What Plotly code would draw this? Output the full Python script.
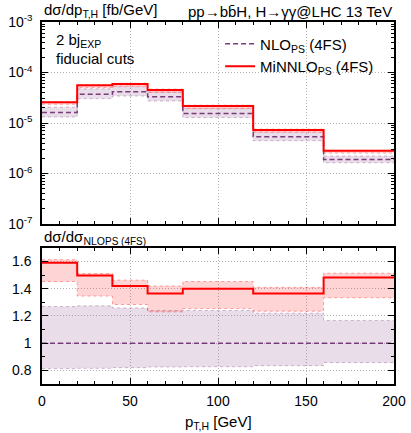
import plotly.graph_objects as go
from plotly.subplots import make_subplots

# ---------------- data ----------------
bin_edges = [0, 20, 40, 60, 80, 120, 160, 200]
nlo_central = [1.62e-5, 3.73e-5, 4.17e-5, 3.30e-5, 1.55e-5, 5.35e-6, 1.90e-6]  # fb/GeV
nlo_ratio_up = [1.269, 1.274, 1.259, 1.240, 1.240, 1.220, 1.167]
nlo_ratio_lo = [0.813, 0.815, 0.820, 0.825, 0.827, 0.835, 0.857]
minnlo_ratio = [1.590, 1.497, 1.420, 1.364, 1.400, 1.364, 1.482]
minnlo_ratio_up = [1.613, 1.511, 1.463, 1.420, 1.453, 1.410, 1.514]
minnlo_ratio_lo = [1.453, 1.346, 1.284, 1.230, 1.254, 1.235, 1.334]
log_tick_vals = [1e-7, 1e-6, 1e-5, 1e-4, 1e-3]
log_tick_text = ["10<sup>-7</sup>", "10<sup>-6</sup>", "10<sup>-5</sup>", "10<sup>-4</sup>", "10<sup>-3</sup>"]

FONT = "Liberation Sans, Arial, sans-serif"
RED = "#ff0000"
PURPLE = "#7a3d7a"
RED_FILL = "rgba(255,0,0,0.17)"
PUR_FILL = "rgba(128,64,128,0.18)"
RED_EDGE = "rgba(255,0,0,0.35)"
PUR_EDGE = "rgba(128,64,128,0.35)"


def step(vals):
    return list(vals) + [vals[-1]]


def mul(a, b):
    return [x * y for x, y in zip(a, b)]


ones = [1.0] * len(nlo_central)
nlo_abs_up = mul(nlo_central, nlo_ratio_up)
nlo_abs_lo = mul(nlo_central, nlo_ratio_lo)
minnlo_abs = mul(nlo_central, minnlo_ratio)
minnlo_abs_up = mul(nlo_central, minnlo_ratio_up)
minnlo_abs_lo = mul(nlo_central, minnlo_ratio_lo)

fig = make_subplots(rows=2, cols=1, shared_xaxes=False,
                    row_heights=[0.558, 0.376], vertical_spacing=0.066)


def add_panel(row, p_lo, p_up, p_c, r_lo, r_up, r_c, legend):
    common = dict(x=bin_edges, mode="lines", line_shape="hv", hoverinfo="skip")
    fig.add_trace(go.Scatter(y=step(p_lo), line=dict(color=PUR_EDGE, width=1, dash="dot"),
                             showlegend=False, **common), row=row, col=1)
    fig.add_trace(go.Scatter(y=step(p_up), line=dict(color=PUR_EDGE, width=1, dash="dot"),
                             fill="tonexty", fillcolor=PUR_FILL, showlegend=False, **common),
                  row=row, col=1)
    fig.add_trace(go.Scatter(y=step(r_lo), line=dict(color=RED_EDGE, width=1, dash="dot"),
                             showlegend=False, **common), row=row, col=1)
    fig.add_trace(go.Scatter(y=step(r_up), line=dict(color=RED_EDGE, width=1, dash="dot"),
                             fill="tonexty", fillcolor=RED_FILL, showlegend=False, **common),
                  row=row, col=1)
    fig.add_trace(go.Scatter(y=step(p_c), line=dict(color=PURPLE, width=1.5, dash="5px,3px"),
                             name="NLO<sub>PS</sub> (4FS)", showlegend=legend, legendgroup="a",
                             **common), row=row, col=1)
    fig.add_trace(go.Scatter(y=step(r_c), line=dict(color=RED, width=2),
                             name="MiNNLO<sub>PS</sub> (4FS)", showlegend=legend, legendgroup="b",
                             **common), row=row, col=1)


add_panel(1, nlo_abs_lo, nlo_abs_up, nlo_central, minnlo_abs_lo, minnlo_abs_up, minnlo_abs, True)
add_panel(2, nlo_ratio_lo, nlo_ratio_up, ones, minnlo_ratio_lo, minnlo_ratio_up, minnlo_ratio, False)

axis_style = dict(showline=True, linecolor="black", linewidth=1.5, mirror="allticks",
                  ticks="inside", ticklen=6, tickwidth=1, tickcolor="black",
                  showgrid=True, gridcolor="#b4b4b4", griddash="1px,2px", gridwidth=1,
                  zeroline=False, automargin=False,
                  tickfont=dict(family=FONT, size=14, color="black"))

fig.update_xaxes(range=[0, 200], dtick=50, tick0=0, ticklabelstandoff=3,
                 minor=dict(dtick=10, ticks="inside", ticklen=3, tickcolor="black", showgrid=False),
                 **axis_style)
fig.update_xaxes(showticklabels=False, row=1, col=1)
fig.update_yaxes(type="log", range=[-7, -3], tickvals=log_tick_vals, ticktext=log_tick_text,
                 ticklabelstandoff=5,
                 minor=dict(dtick="D1", ticks="inside", ticklen=3, tickcolor="black", showgrid=False),
                 row=1, col=1, **axis_style)
fig.update_yaxes(range=[0.7, 1.7], tick0=0.8, dtick=0.2, tickformat="~g", ticklabelstandoff=6,
                 minor=dict(dtick=0.1, ticks="inside", ticklen=3, tickcolor="black", showgrid=False),
                 row=2, col=1, **axis_style)


def note(text, x, y, xanchor="left", yanchor="middle", size=15):
    fig.add_annotation(text=text, xref="paper", yref="paper", x=x, y=y, xanchor=xanchor,
                       yanchor=yanchor, showarrow=False, align="left",
                       font=dict(family=FONT, size=size, color="black"))


note("dσ/dp<sub>T,H</sub> [fb/GeV]", 0, 1.0, yanchor="bottom")
note("pp→bb̄H, H→γγ@LHC 13 TeV", 1, 1.0, xanchor="right", yanchor="bottom")
note("2 bj<sub>EXP</sub>", 0.034, 0.948)
note("fiducial cuts", 0.034, 0.900)
note("dσ/dσ<sub>NLO<span style='font-size:10px'>PS (4FS)</span></sub>", 0, 0.372, yanchor="bottom")
note("p<sub>T,H</sub> [GeV]", 0.5, -0.105, xanchor="center")

fig.update_layout(
    width=411, height=433,
    margin=dict(l=42, r=17, t=22, b=49),
    paper_bgcolor="white", plot_bgcolor="white",
    font=dict(family=FONT, size=14, color="black"),
    legend=dict(x=0.506, y=0.985, xanchor="left", yanchor="top", bgcolor="rgba(0,0,0,0)",
                traceorder="normal", font=dict(family=FONT, size=15, color="black"),
                tracegroupgap=8),
    showlegend=True,
)

fig.write_html("out.html", config={"displayModeBar": False},
               post_script="document.body.style.margin='0';")
